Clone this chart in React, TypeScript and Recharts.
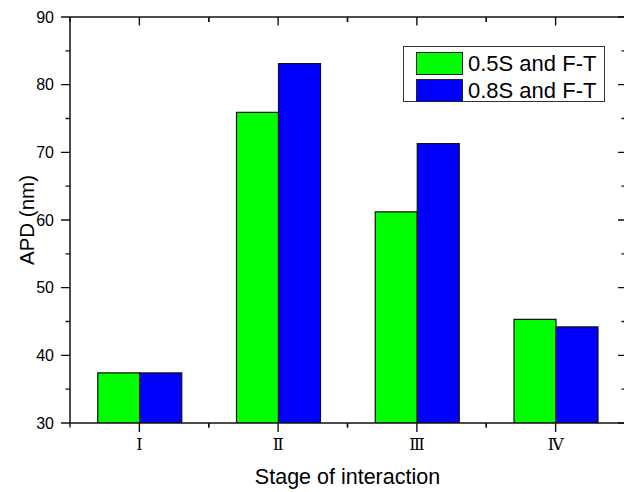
import { BarChart, Bar, XAxis, YAxis, Legend, Rectangle, ReferenceLine } from 'recharts';

// stages of interaction and average particle diameter (nm)
const stages = ['Ⅰ', 'Ⅱ', 'Ⅲ', 'Ⅳ'];
const apd05 = [37.4, 75.9, 61.2, 45.3];
const apd08 = [37.4, 83.1, 71.3, 44.2];
const yMajor = [30, 40, 50, 60, 70, 80, 90];
const yMinor = [35, 45, 55, 65, 75, 85];

const data = stages.map((stage, i) => ({ stage, s05: apd05[i], s08: apd08[i] }));

const SHIFT = 20;
const W = 660;
const H = 492;
const M = { top: 17, right: 15, left: SHIFT, bottom: 0 };
const Y_W = 70;
const X_H = 69;
const band = (W - M.left - M.right - Y_W) / stages.length;

const ink = '#111';
const sans = '"Liberation Sans", Arial, sans-serif';

const LeftTick = ({ x, y, payload }: any) => (
  <text x={x - 16} y={y + 5.5} textAnchor="end" fontSize={16} fontFamily={sans} fill="#000">
    {payload.value}
  </text>
);

const BottomTick = ({ x, y, payload }: any) => (
  <text x={x} y={y + 27} textAnchor="middle" fontSize={16} fontFamily='"DejaVu Serif", "Liberation Serif", serif' fill="#000">
    {payload.value}
  </text>
);

// frame tick marks, hung on reference lines: outward on left/bottom, inward on top/right
const yTickShape = (outL: number, inR: number) => (p: any) => {
  const xa = Math.min(p.x1, p.x2);
  const xb = Math.max(p.x1, p.x2);
  const y = p.y1;
  return <path d={`M${xa - outL},${y}H${xa}M${xb - inR},${y}H${xb}`} stroke={ink} strokeWidth={1.4} fill="none" />;
};

const xTickShape = (p: any) => {
  const x = p.x1;
  const top = Math.min(p.y1, p.y2);
  const bot = Math.max(p.y1, p.y2);
  const h = band / 2;
  const d = [
    `M${x},${bot}V${bot + 9}`,
    `M${x - h},${bot}V${bot + 4.5}`,
    `M${x + h},${bot}V${bot + 4.5}`,
    `M${x},${top}V${top + 8.5}`,
    `M${x - h},${top}V${top + 5}`,
    `M${x + h},${top}V${top + 5}`,
  ].join('');
  return <path d={d} stroke={ink} strokeWidth={1.4} fill="none" />;
};

const LegendBox = ({ payload }: any) => (
  <div style={{ width: 202, height: 56, boxSizing: 'border-box', border: '1px solid #333', background: '#fff', paddingTop: 3 }}>
    {(payload || []).map((p: any) => (
      <div key={p.value} style={{ display: 'flex', alignItems: 'center', height: 27 }}>
        <span style={{ display: 'inline-block', width: 47, height: 23, boxSizing: 'border-box', background: p.color, border: '1px solid #222', marginLeft: 12 }} />
        <span style={{ marginLeft: 5, fontSize: 22, fontFamily: sans, color: '#000', lineHeight: '27px' }}>{p.value}</span>
      </div>
    ))}
  </div>
);

const OutlinedBar = (props: any) => <Rectangle {...props} stroke={ink} strokeWidth={1.2} />;

export default function App() {
  return (
    <div style={{ position: 'absolute', left: 0, top: 0, width: 624, height: 492, overflow: 'hidden', background: '#fff' }}>
      <div style={{ position: 'absolute', left: -SHIFT, top: 0 }}>
        <BarChart width={W} height={H} data={data} margin={M} barGap={0} barCategoryGap="20%">
          <XAxis
            dataKey="stage"
            height={X_H}
            axisLine={{ stroke: ink, strokeWidth: 1.5 }}
            tickLine={false}
            tickSize={0}
            tickMargin={0}
            interval={0}
            tick={BottomTick}
            label={(props: any) => {
              const vb = props.viewBox;
              return (
                <text x={vb.x + vb.width / 2} y={vb.y + 61} textAnchor="middle" fontSize={21.5} fontFamily={sans} fill="#000">
                  Stage of interaction
                </text>
              );
            }}
          />
          <YAxis
            width={Y_W}
            domain={[30, 90]}
            ticks={yMajor}
            allowDataOverflow
            axisLine={{ stroke: ink, strokeWidth: 1.5 }}
            tickLine={false}
            tickSize={0}
            tickMargin={0}
            interval={0}
            tick={LeftTick}
            label={(props: any) => {
              const vb = props.viewBox;
              const cx = vb.x + 34;
              const cy = vb.y + vb.height / 2;
              return (
                <text x={cx} y={cy} transform={`rotate(-90, ${cx}, ${cy})`} textAnchor="middle" fontSize={20.5} fontFamily={sans} fill="#000">
                  APD (nm)
                </text>
              );
            }}
          />
          {/* top spine */}
          <ReferenceLine y={90} stroke={ink} strokeWidth={1.5} ifOverflow="visible" />
          {yMajor.map((v) => (
            <ReferenceLine key={`M${v}`} y={v} ifOverflow="visible" shape={yTickShape(9, 7)} />
          ))}
          {yMinor.map((v) => (
            <ReferenceLine key={`m${v}`} y={v} ifOverflow="visible" shape={yTickShape(4.5, 3.5)} />
          ))}
          {stages.map((s) => (
            <ReferenceLine key={`x${s}`} x={s} ifOverflow="visible" shape={xTickShape} />
          ))}
          <Legend
            layout="vertical"
            align="center"
            verticalAlign="middle"
            wrapperStyle={{ left: 403 + SHIFT, top: 46, width: 202, height: 56 }}
            content={LegendBox}
          />
          <Bar dataKey="s05" name="0.5S and F-T" fill="#00ff00" shape={OutlinedBar} isAnimationActive={false} />
          <Bar dataKey="s08" name="0.8S and F-T" fill="#0000ff" shape={OutlinedBar} isAnimationActive={false} />
        </BarChart>
      </div>
    </div>
  );
}
